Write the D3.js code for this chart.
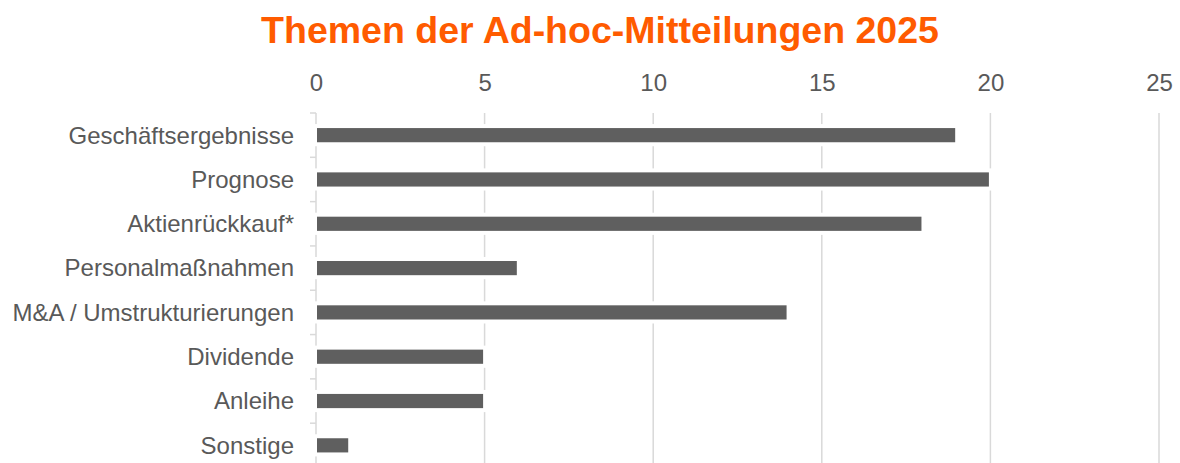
<!DOCTYPE html>
<html>
<head>
<meta charset="utf-8">
<script src="https://cdn.jsdelivr.net/npm/d3@7"></script>
<style>
  body { margin: 0; background: #fff; }
  svg { display: block; font-family: "Liberation Sans", Arial, sans-serif; }
</style>
</head>
<body>
<div id="chart"></div>
<script>
const title = 'Themen der Ad-hoc-Mitteilungen 2025';
const categories = ['Geschäftsergebnisse', 'Prognose', 'Aktienrückkauf*', 'Personalmaßnahmen',
  'M&A / Umstrukturierungen', 'Dividende', 'Anleihe', 'Sonstige'];
const values = [19, 20, 18, 6, 14, 5, 5, 1];
const tickValues = [0, 5, 10, 15, 20, 25];

const width = 1180;
const height = 463;

const svg = d3.select('#chart')
  .append('svg')
  .attr('width', width)
  .attr('height', height);

const x = d3.scaleLinear().domain([0, 25]).range([316, 1159]);
const y = d3.scaleBand().domain(categories).range([113, 467.5]).paddingInner(0.68).paddingOuter(0.34);

// title
svg.append('text')
  .attr('x', 600)
  .attr('y', 43)
  .attr('text-anchor', 'middle')
  .attr('font-size', 37.5)
  .attr('font-weight', 'bold')
  .attr('fill', '#ff5b00')
  .text(title);

// vertical gridlines
svg.append('g')
  .selectAll('line')
  .data(tickValues.slice(1))
  .enter()
  .append('line')
  .attr('x1', d => x(d))
  .attr('x2', d => x(d))
  .attr('y1', 113)
  .attr('y2', height)
  .attr('stroke', '#d9d9d9')
  .attr('stroke-width', 1.5);

// top axis labels
const xAxis = svg.append('g')
  .attr('transform', 'translate(0,91)')
  .call(d3.axisTop(x).tickValues(tickValues).tickSize(0).tickPadding(0));
xAxis.select('.domain').remove();
xAxis.selectAll('text')
  .attr('font-size', 24)
  .attr('font-family', '"Liberation Sans", Arial, sans-serif')
  .attr('fill', '#595959')
  .attr('dy', 0);

// left category axis with separator ticks
const step = y.step();
const bounds = d3.range(categories.length + 1).map(i => 113 + i * step);
svg.append('line')
  .attr('x1', x(0)).attr('x2', x(0))
  .attr('y1', 113).attr('y2', height)
  .attr('stroke', '#d9d9d9')
  .attr('stroke-width', 1.5);
svg.append('g')
  .selectAll('line')
  .data(bounds)
  .enter()
  .append('line')
  .attr('x1', x(0) - 6)
  .attr('x2', x(0))
  .attr('y1', d => d)
  .attr('y2', d => d)
  .attr('stroke', '#d9d9d9')
  .attr('stroke-width', 1.5);

// bars, white halo cuts the gridlines like the original
svg.append('g')
  .selectAll('rect')
  .data(values)
  .enter()
  .append('rect')
  .attr('x', x(0) + 1)
  .attr('y', (d, i) => y(categories[i]))
  .attr('width', d => x(d) - x(0) - 2.5)
  .attr('height', y.bandwidth())
  .attr('fill', '#5f5f5f')
  .attr('stroke', '#fff')
  .attr('stroke-width', 8)
  .style('paint-order', 'stroke');

// category labels
svg.append('g')
  .selectAll('text')
  .data(categories)
  .enter()
  .append('text')
  .attr('x', 294)
  .attr('y', d => y(d) + y.bandwidth() / 2)
  .attr('dy', '0.35em')
  .attr('text-anchor', 'end')
  .attr('font-size', 24)
  .attr('fill', '#595959')
  .text(d => d);
</script>
</body>
</html>
